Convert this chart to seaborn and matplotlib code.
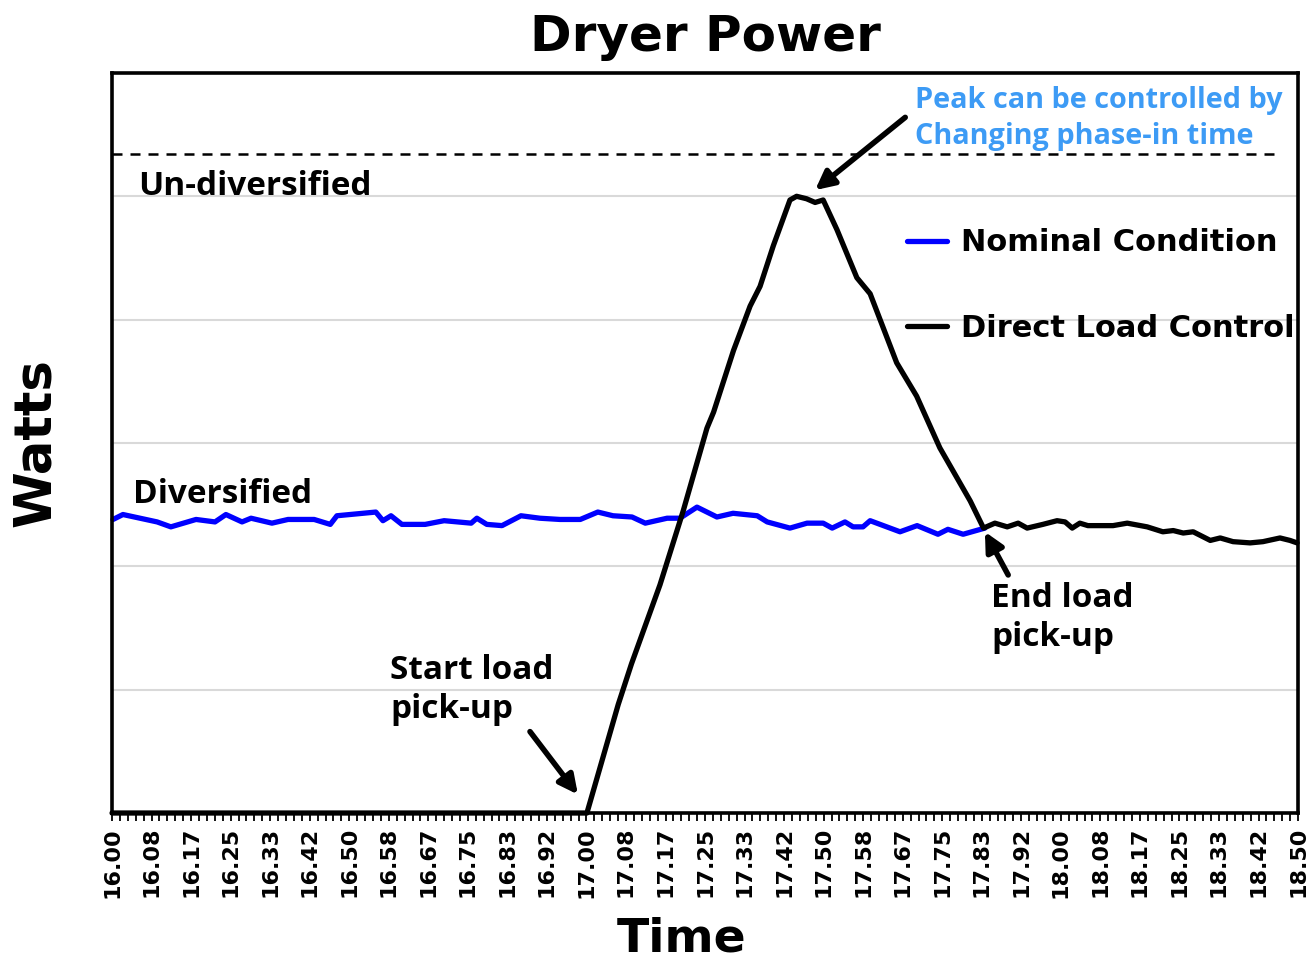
import numpy as np
import pandas as pd
import seaborn as sns
import matplotlib.pyplot as plt
from matplotlib.ticker import FixedLocator, MultipleLocator

# time in hours, power in watts
nominal_time = [16.002, 16.023, 16.095, 16.124, 16.177, 16.217, 16.240, 16.274, 16.293, 16.337,
                16.371, 16.426, 16.460, 16.474, 16.556, 16.571, 16.588, 16.611, 16.660, 16.700,
                16.757, 16.769, 16.790, 16.822, 16.862, 16.902, 16.944, 16.987, 17.024, 17.056,
                17.096, 17.124, 17.170, 17.197, 17.233, 17.275, 17.309, 17.360, 17.381, 17.429,
                17.465, 17.499, 17.518, 17.545, 17.562, 17.583, 17.598, 17.661, 17.697, 17.741,
                17.762, 17.794, 17.840]
nominal_watts = [2380, 2420, 2360, 2320, 2380, 2360, 2420, 2360, 2390, 2350,
                 2380, 2380, 2340, 2410, 2440, 2370, 2410, 2340, 2340, 2370,
                 2350, 2390, 2340, 2330, 2410, 2390, 2380, 2380, 2440, 2410,
                 2400, 2350, 2390, 2390, 2480, 2400, 2430, 2410, 2360, 2310,
                 2350, 2350, 2310, 2360, 2320, 2320, 2370, 2280, 2330, 2260,
                 2300, 2260, 2310]

dlc_time = [16.000, 17.001, 17.067, 17.095, 17.155, 17.204, 17.254, 17.268, 17.310, 17.345,
            17.366, 17.394, 17.429, 17.443, 17.464, 17.482, 17.499, 17.528, 17.570, 17.598,
            17.654, 17.696, 17.745, 17.809, 17.837, 17.861, 17.887, 17.910, 17.929, 17.962,
            17.992, 18.009, 18.024, 18.040, 18.057, 18.110, 18.140, 18.182, 18.215, 18.237,
            18.258, 18.279, 18.315, 18.336, 18.363, 18.399, 18.426, 18.462, 18.483, 18.498]
dlc_watts = [0, 0, 880, 1210, 1850, 2450, 3120, 3250, 3750, 4110,
             4270, 4600, 4970, 5000, 4980, 4950, 4970, 4730, 4340, 4210,
             3650, 3380, 2960, 2530, 2310, 2350, 2320, 2350, 2310, 2340,
             2370, 2360, 2310, 2350, 2330, 2330, 2350, 2320, 2280, 2290,
             2270, 2280, 2210, 2230, 2200, 2190, 2200, 2230, 2210, 2190]

undiversified_watts = 5340

tick_hours = [16 + i / 12 for i in range(31)]
tick_labels = ['16.00', '16.08', '16.17', '16.25', '16.33', '16.42', '16.50', '16.58',
               '16.67', '16.75', '16.83', '16.92', '17.00', '17.08', '17.17', '17.25',
               '17.33', '17.42', '17.50', '17.58', '17.67', '17.75', '17.83', '17.92',
               '18.00', '18.08', '18.17', '18.25', '18.33', '18.42', '18.50']

df = pd.concat([
    pd.DataFrame({'time': nominal_time, 'watts': nominal_watts, 'series': 'Nominal Condition'}),
    pd.DataFrame({'time': dlc_time, 'watts': dlc_watts, 'series': 'Direct Load Control'}),
])

sns.set_style('white')
plt.rcParams['font.family'] = ['DejaVu Sans']
plt.rcParams['text.color'] = 'black'
plt.rcParams['axes.labelcolor'] = 'black'
plt.rcParams['xtick.color'] = 'black'

fig = plt.figure(figsize=(13.06, 9.65), dpi=100)
ax = fig.add_axes([0.0858, 0.1575, 0.9081, 0.7669])

sns.lineplot(data=df, x='time', y='watts', hue='series', estimator=None, sort=False,
             palette={'Nominal Condition': '#0000ff', 'Direct Load Control': 'black'},
             linewidth=3.8, ax=ax, clip_on=False)

ax.set_xlim(16.0, 18.5)
ax.set_ylim(0, 6000)

# grid + dashed un-diversified level
for gy in [1000, 2000, 3000, 4000, 5000]:
    ax.axhline(gy, color='#d9d9d9', lw=1.5, zorder=0)
ax.axhline(undiversified_watts, xmax=0.985, color='black', lw=1.8, ls=(0, (4, 3.2)), zorder=1)

for s in ax.spines.values():
    s.set_linewidth(2.6)
    s.set_color('black')

ax.set_yticks([])
ax.xaxis.set_major_locator(FixedLocator(tick_hours))
ax.set_xticklabels(tick_labels, rotation=90, fontsize=16, fontweight='bold')
ax.xaxis.set_minor_locator(MultipleLocator(1 / 60))
ax.tick_params(axis='x', which='both', direction='out', length=6, width=1.3,
               color='black', bottom=True, pad=4)

ax.set_xlabel('Time', fontsize=34, fontweight='bold')
ax.xaxis.set_label_coords(0.48, -0.14)
ax.set_ylabel('Watts', fontsize=37, fontweight='bold')
ax.yaxis.set_label_coords(-0.043, 0.5)
ax.set_title('Dryer Power', fontsize=36, fontweight='bold', pad=16)

handles, labels = ax.get_legend_handles_labels()
for h in handles:
    h.set_linewidth(3.8)
ax.legend(handles, labels, loc='upper right', bbox_to_anchor=(1.02, 0.827), frameon=False,
          prop={'size': 22, 'weight': 'bold'}, labelspacing=1.85, handlelength=1.3,
          handletextpad=0.45)

txt = dict(fontsize=24, fontweight='bold', family=['Open Sans', 'DejaVu Sans'])
ax.text(16.055, 5080, 'Un-diversified', va='center', ha='left', **txt)
ax.text(16.044, 2580, 'Diversified', va='center', ha='left', **txt)
ax.text(17.693, 5630, 'Peak can be controlled by\nChanging phase-in time', va='center',
        ha='left', color='#3d9bf5', linespacing=1.3,
        **{**txt, 'fontsize': 20.8})

arrow = dict(arrowstyle='-|>', lw=4, mutation_scale=28, color='black', shrinkA=0, shrinkB=0)
ax.annotate('', xy=(17.482, 5050), xytext=(17.672, 5640), arrowprops=arrow)
ax.annotate('Start load\npick-up', xy=(16.982, 150), xytext=(16.586, 1000),
            va='center', ha='left', linespacing=1.25, **txt)
ax.annotate('', xy=(16.982, 150), xytext=(16.881, 660), arrowprops=arrow)
ax.annotate('End load\npick-up', xy=(17.840, 2280), xytext=(17.853, 1580),
            va='center', ha='left', linespacing=1.25, **txt)
ax.annotate('', xy=(17.840, 2280), xytext=(17.889, 1930), arrowprops=arrow)

fig.savefig('out.png', dpi=100)
